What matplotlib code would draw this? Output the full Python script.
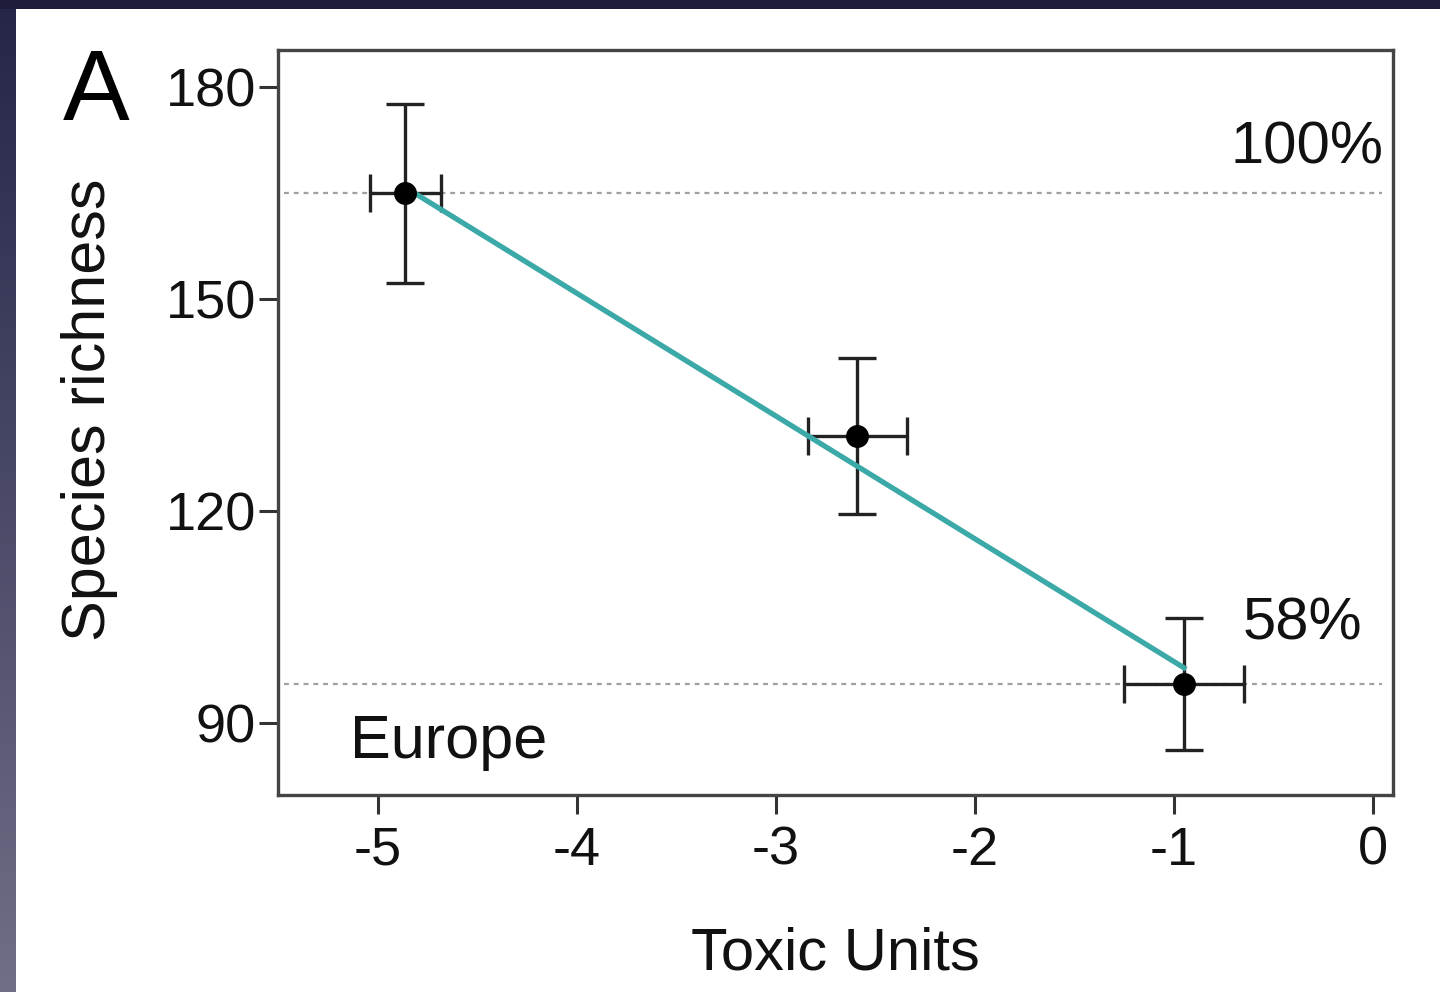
import numpy as np
import matplotlib
matplotlib.use('Agg')
import matplotlib.pyplot as plt
from matplotlib.patches import Rectangle
from matplotlib.colors import LinearSegmentedColormap

plt.rcParams['font.family'] = ['Liberation Sans', 'DejaVu Sans']

# Datos
toxic_units = [-4.86, -2.59, -0.95]
richness = [164.9, 130.6, 95.5]
xerr = [0.18, 0.25, 0.30]
yerr = [12.6, 11.0, 9.4]
fit_x = [-4.84, -0.95]
fit_y = [165.4, 97.8]
ref_levels = [164.9, 95.5]
x_ticks = [-5, -4, -3, -2, -1, 0]
y_ticks = [90, 120, 150, 180]

fig = plt.figure(figsize=(14.4, 9.92), dpi=100, facecolor='white')

# Marco oscuro (arriba e izquierda)
fig.patches.append(Rectangle((0, 1 - 9 / 992), 1, 9 / 992, transform=fig.transFigure,
                             facecolor='#1d1d3b', edgecolor='none', zorder=0))
ax_strip = fig.add_axes([0, 0, 16 / 1440, 1 - 9 / 992])
grad = np.linspace(0, 1, 256).reshape(-1, 1)
cmap = LinearSegmentedColormap.from_list('strip', ['#262648', '#4a4a68', '#6f6f89'])
ax_strip.imshow(grad, aspect='auto', cmap=cmap, extent=[0, 1, 0, 1], origin='upper')
ax_strip.axis('off')

ax = fig.add_axes([278 / 1440, 1 - 795 / 992, (1393 - 278) / 1440, (795 - 50) / 992])

# Líneas de referencia punteadas
for lvl in ref_levels:
    ax.axhline(lvl, xmin=0.005, xmax=0.99, color='#a0a0a0', linewidth=1.6,
               linestyle=(0, (2.2, 2.2)), zorder=1)

# Barras de error
ax.errorbar(toxic_units, richness, xerr=xerr, yerr=yerr, fmt='none',
            ecolor='#222222', elinewidth=2.4, capsize=14, capthick=2.4, zorder=2)

# Recta de ajuste
ax.plot(fit_x, fit_y, color='#3aa9a7', linewidth=3.8, zorder=3)

# Puntos
ax.plot(toxic_units, richness, 'o', color='black', markersize=15.5, zorder=4)

ax.set_xlim(-5.5, 0.1)
ax.set_ylim(79.8, 185.2)
ax.set_xticks(x_ticks)
ax.set_yticks(y_ticks)
ax.set_xticklabels([str(t) for t in x_ticks])
ax.set_yticklabels([str(t) for t in y_ticks])
ax.tick_params(axis='both', direction='out', length=14, width=2.2, color='#333333',
               labelsize=39, labelcolor='#111111')
ax.tick_params(axis='x', pad=8)
ax.tick_params(axis='y', pad=2)
for sp in ax.spines.values():
    sp.set_linewidth(2.4)
    sp.set_color('#444444')

# Textos
ax.text(0.05, 169.2, '100%', fontsize=43, ha='right', va='baseline', color='#111111')
ax.text(-0.653, 101.75, '58%', fontsize=43, ha='left', va='baseline', color='#111111')
ax.text(-5.14, 85.05, 'Europe', fontsize=44, ha='left', va='baseline', color='#111111')

fig.text(63 / 1440, 1 - 120 / 992, 'A', fontsize=72, ha='left', va='baseline', color='black')
fig.text(90 / 1440, 1 - 410 / 992, 'Species richness', fontsize=44, rotation=90,
         ha='center', va='center', color='#111111')
fig.text(835 / 1440, 1 - 970 / 992, 'Toxic Units', fontsize=43, ha='center',
         va='baseline', color='#111111')

plt.savefig('out.png', dpi=100, facecolor='white')
